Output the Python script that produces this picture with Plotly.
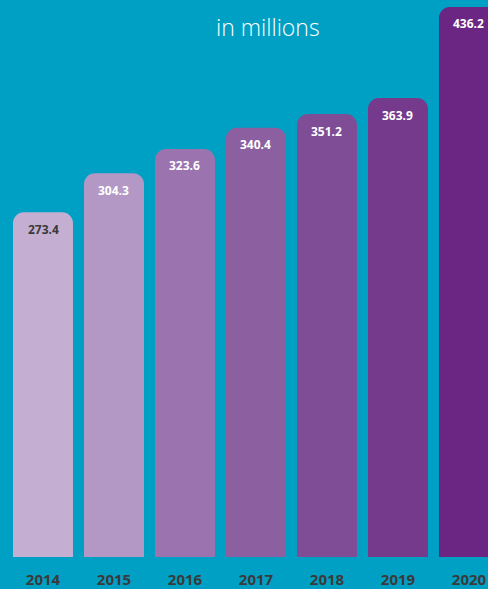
import plotly.graph_objects as go

years = ["2014", "2015", "2016", "2017", "2018", "2019", "2020"]
values = [273.4, 304.3, 323.6, 340.4, 351.2, 363.9, 436.2]
colors = ["#C4AED2", "#B398C5", "#9B73AE", "#8C5FA0", "#7F4C96", "#763A8D", "#6B2683"]
label_colors = ["#3a3a3a", "white", "white", "white", "white", "white", "white"]

fig = go.Figure(go.Bar(
    x=years, y=values, marker=dict(color=colors, line=dict(width=0)),
    width=0.845, hoverinfo="skip",
))

for i, (v, c) in enumerate(zip(values, label_colors)):
    fig.add_annotation(x=i, y=v, xref="x", yref="y", text=f"<b>{v:.1f}</b>", showarrow=False,
                       yanchor="middle", yshift=-17,
                       font=dict(family="Open Sans", size=12, color=c))

fig.add_annotation(xref="paper", yref="paper", x=268/488, y=1 - 27/559,
                   text="in millions", showarrow=False, xanchor="center", yanchor="middle",
                   font=dict(family="Open Sans", size=23, color="white", weight=300))

fig.update_layout(
    width=488, height=589,
    margin=dict(l=0, r=0, t=0, b=30),
    paper_bgcolor="#00A0C4", plot_bgcolor="#00A0C4",
    barcornerradius=11,
    showlegend=False,
    xaxis=dict(type="category", range=[-0.6056, 6.268], showgrid=False, zeroline=False,
               showline=False, ticks="", ticklabelstandoff=12,
               tickfont=dict(family="Open Sans", size=15, color="#3a3a3a", weight="bold")),
    yaxis=dict(range=[0, 441.7], visible=False),
)

fig.write_html("out.html", config={"displayModeBar": False},
               post_script="document.body.style.margin='0';document.body.style.background='#00A0C4';")
